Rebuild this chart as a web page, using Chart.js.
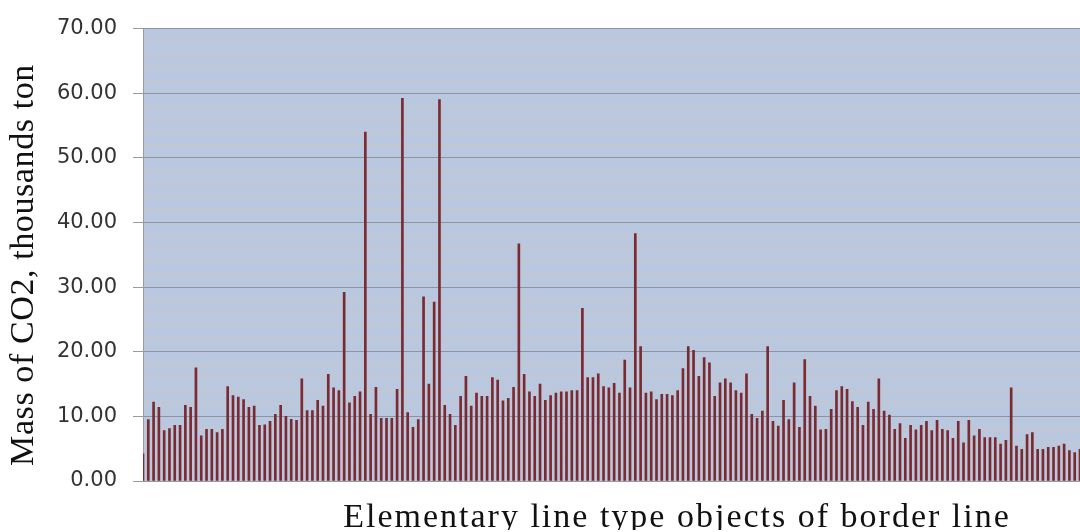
<!DOCTYPE html>
<html>
<head>
<meta charset="utf-8">
<script src="https://cdn.jsdelivr.net/npm/chart.js@4.4.1/dist/chart.umd.min.js"></script>
<style>
html, body { margin: 0; padding: 0; background: #fff; }
#wrap { width: 1080px; height: 532px; position: relative; }
</style>
</head>
<body>
<div id="wrap"><canvas id="co2Chart"></canvas></div>
<script>
// DATA (thousands ton per object)
const co2Mass = [
    4.2, 9.5, 12.2, 11.4, 7.8, 8.1, 8.6, 8.6, 11.7, 11.4, 17.5, 7.0, 8.0, 8.0, 7.5, 8.0, 14.6, 13.2, 13.0, 12.6, 11.4, 11.6, 8.6, 8.7,
    9.25, 10.3, 11.7, 10.0, 9.55, 9.4, 15.8, 10.9, 10.9, 12.5, 11.6, 16.5, 14.4, 14.0, 29.2, 12.1, 13.1, 13.8, 54.0, 10.3, 14.5, 9.7,
    9.7, 9.7, 14.2, 59.2, 10.6, 8.3, 9.5, 28.5, 15.0, 27.7, 59.0, 11.7, 10.3, 8.6, 13.1, 16.2, 11.6, 13.6, 13.1, 13.1, 16.0, 15.6, 12.4,
    12.8, 14.5, 36.7, 16.5, 13.8, 13.1, 15.0, 12.5, 13.2, 13.6, 13.8, 13.8, 14.0, 14.0, 26.7, 16.0, 16.0, 16.6, 14.6, 14.4, 15.1, 13.6, 18.7,
    14.4, 38.3, 20.8, 13.6, 13.8, 12.6, 13.4, 13.4, 13.2, 14.0, 17.4, 20.8, 20.2, 16.2, 19.1, 18.3, 13.1, 15.2, 15.8, 15.2, 14.0, 13.6, 16.6,
    10.3, 9.7, 10.8, 20.8, 9.25, 8.5, 12.5, 9.5, 15.2, 8.3, 18.8, 13.1, 11.6, 7.9, 8.0, 11.1, 14.0, 14.6, 14.2, 12.3, 11.4, 8.6,
    12.2, 11.1, 15.8, 10.8, 10.2, 8.0, 8.9, 6.6, 8.6, 7.9, 8.6, 9.25, 7.8, 9.4, 8.0, 7.8, 6.6, 9.25, 5.9, 9.4, 7.0, 8.0, 6.7,
    6.7, 6.7, 5.7, 6.3, 14.4, 5.4, 4.9, 7.2, 7.5, 4.9, 4.9, 5.2, 5.2, 5.4, 5.7, 4.7, 4.4, 4.9
];
const objectLabels = co2Mass.map((_, i) => String(i + 1));
const yMajorTicks = [0, 10, 20, 30, 40, 50, 60, 70];
const yTitle = 'Mass of CO2, thousands ton';
const xTitle = 'Elementary line type objects of border line';

const isMajor = v => yMajorTicks.includes(v);

// PLUGINS
const plotBackground = {
    id: 'plotBackground',
    beforeDraw(chart) {
        const { ctx, chartArea: a } = chart;
        ctx.save();
        ctx.fillStyle = '#b9c8de';
        ctx.fillRect(a.left, a.top, a.right - a.left, a.bottom - a.top);
        ctx.restore();
    }
};

// axis titles drawn by hand: the source has them off-centre and widely spaced
const axisTitles = {
    id: 'axisTitles',
    afterDraw(chart) {
        const { ctx } = chart;
        ctx.save();
        ctx.fillStyle = '#111';
        ctx.textAlign = 'center';
        ctx.textBaseline = 'alphabetic';

        // x title, bottom cut off like in the source
        ctx.save();
        ctx.beginPath();
        ctx.rect(0, 482, chart.width, 48);
        ctx.clip();
        ctx.font = '34px "Liberation Serif"';
        ctx.letterSpacing = '2px';
        ctx.fillText(xTitle, 677, 527);
        ctx.restore();

        // y title
        ctx.translate(33, 265);
        ctx.rotate(-Math.PI / 2);
        ctx.font = '34px "Liberation Serif"';
        ctx.letterSpacing = '0.6px';
        ctx.fillText(yTitle, 0, 0);
        ctx.restore();
    }
};

// CHART
new Chart(document.getElementById('co2Chart'), {
    type: 'bar',
    data: {
        labels: objectLabels,
        datasets: [{
            data: co2Mass,
            backgroundColor: '#7a2a30',
            barThickness: 2,
            borderWidth: 0
        }]
    },
    options: {
        responsive: true,
        maintainAspectRatio: false,
        animation: false,
        devicePixelRatio: 1,
        layout: { padding: { top: 27, right: 0, left: 43, bottom: 0 } },
        plugins: { legend: { display: false }, tooltip: { enabled: false } },
        scales: {
            x: {
                type: 'category',
                offset: false,
                grid: { display: false },
                border: { display: true, color: '#9a9a9a', width: 1 },
                ticks: { display: false },
                afterFit: s => { s.height = 51; }
            },
            y: {
                min: 0,
                max: 70,
                ticks: {
                    stepSize: 2,
                    autoSkip: false,
                    padding: 16,
                    color: '#333',
                    font: { family: 'DejaVu Sans', size: 21 },
                    callback: v => isMajor(v) ? v.toFixed(2) : ''
                },
                grid: {
                    color: c => isMajor(c.tick.value) ? '#8d949f' : '#cdc5bf',
                    tickColor: c => isMajor(c.tick.value) ? '#9a9a9a' : 'rgba(0,0,0,0)',
                    tickLength: 10
                },
                border: { display: true, color: '#9a9a9a', width: 1 },
                afterFit: s => { s.width = 100; }
            }
        }
    },
    plugins: [plotBackground, axisTitles]
});
</script>
</body>
</html>
